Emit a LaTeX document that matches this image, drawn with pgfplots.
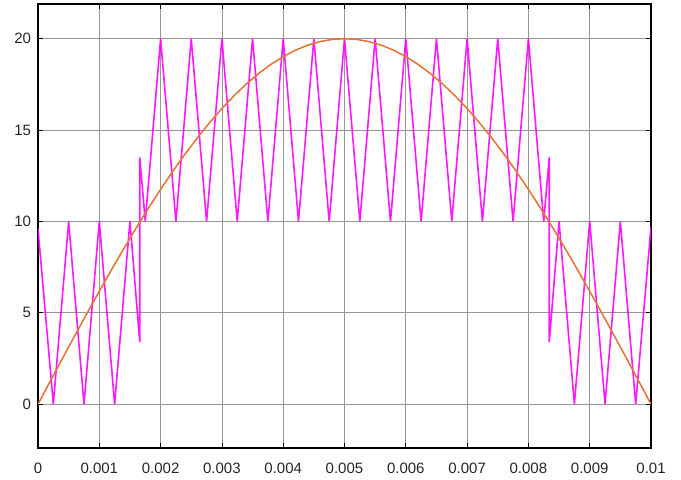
\documentclass[border=0pt]{standalone}
\usepackage{fontspec}
\setmainfont{Liberation Sans}
\usepackage{pgfplots}
\pgfplotsset{compat=1.18}
\definecolor{sineorange}{RGB}{230,115,55}
\definecolor{carrier}{RGB}{255,0,255}
\definecolor{gridgray}{RGB}{150,150,150}
\pgfplotstableread{
x y
0 9.6
0.00025 0
0.0005 10
0.00075 0
0.001 10
0.00125 0
0.0015 10
0.00166 3.4
0.00166 13.5
0.00175 10
0.002 20
0.00225 10
0.0025 20
0.00275 10
0.003 20
0.00325 10
0.0035 20
0.00375 10
0.004 20
0.00425 10
0.0045 20
0.00475 10
0.005 20
0.00525 10
0.0055 20
0.00575 10
0.006 20
0.00625 10
0.0065 20
0.00675 10
0.007 20
0.00725 10
0.0075 20
0.00775 10
0.008 20
0.00825 10
0.00834 13.5
0.00834 3.4
0.0085 10
0.00875 0
0.009 10
0.00925 0
0.0095 10
0.00975 0
0.01 9.7
}\carriertable
\pgfplotstableread{
x y
0 0
0.0002 1.2558
0.0004 2.5067
0.0006 3.7476
0.0008 4.9738
0.001 6.1803
0.0012 7.3625
0.0014 8.5156
0.0016 9.6351
0.0018 10.7165
0.002 11.7557
0.0022 12.7485
0.0024 13.6909
0.0026 14.5794
0.0028 15.4103
0.003 16.1803
0.0032 16.8866
0.0034 17.5261
0.0036 18.0965
0.0038 18.5955
0.004 19.0211
0.0042 19.3717
0.0044 19.6457
0.0046 19.8423
0.0048 19.9605
0.005 20
0.0052 19.9605
0.0054 19.8423
0.0056 19.6457
0.0058 19.3717
0.006 19.0211
0.0062 18.5955
0.0064 18.0965
0.0066 17.5261
0.0068 16.8866
0.007 16.1803
0.0072 15.4103
0.0074 14.5794
0.0076 13.6909
0.0078 12.7485
0.008 11.7557
0.0082 10.7165
0.0084 9.6351
0.0086 8.5156
0.0088 7.3625
0.009 6.1803
0.0092 4.9738
0.0094 3.7476
0.0096 2.5067
0.0098 1.2558
0.01 0
}\sinetable
\begin{document}
\begin{tikzpicture}
\begin{axis}[
  scale only axis,
  width=459.75pt, height=333pt,
  xmin=0, xmax=0.01,
  ymin=-2.4, ymax=21.9,
  xtick={0,0.001,0.002,0.003,0.004,0.005,0.006,0.007,0.008,0.009,0.01},
  xticklabels={0,0.001,0.002,0.003,0.004,0.005,0.006,0.007,0.008,0.009,0.01},
  ytick={0,5,10,15,20},
  scaled x ticks=false,
  /pgf/number format/assume math mode=true,
  tick label style={font=\fontsize{11.25}{13}\selectfont, text=black!85},
  xticklabel style={yshift=-8pt},
  yticklabel style={xshift=-1.7pt},
  tick align=inside,
  tick pos=both,
  major tick length=4pt,
  tick style={black, line width=0.6pt},
  grid=major,
  major grid style={gridgray, line width=0.6pt},
  axis line style={black, line width=1pt},
  clip=true,
]
\addplot[carrier, line width=1.2pt, opacity=0.9] table[x=x,y=y] {\carriertable};
\addplot[sineorange, line width=1.15pt] table[x=x,y=y] {\sinetable};
\end{axis}
\path (current axis.south west) ++(-28.5pt,-23.25pt) rectangle ++(510.75pt,359.25pt);
\end{tikzpicture}
\end{document}
